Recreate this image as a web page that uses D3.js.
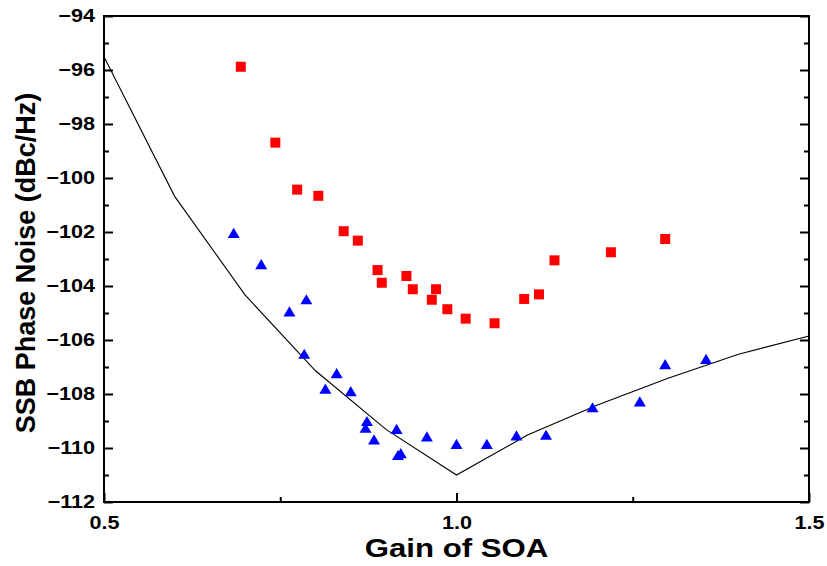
<!DOCTYPE html>
<html>
<head>
<meta charset="utf-8">
<script src="https://cdn.jsdelivr.net/npm/d3@7"></script>
<style>
  html, body { margin: 0; padding: 0; background: #fff; }
  svg { display: block; }
  text { font-family: "Liberation Sans", Arial, sans-serif; font-weight: bold; fill: #000; }
</style>
</head>
<body>
<svg id="chart" width="827" height="566"></svg>
<script>
// ---- data ----
const gainRed = [0.694, 0.743, 0.774, 0.804, 0.840, 0.860, 0.888, 0.894, 0.929, 0.938, 0.965, 0.971, 0.987, 1.013, 1.054, 1.096, 1.117, 1.139, 1.219, 1.296];
const noiseRed = [-95.88, -98.69, -100.43, -100.66, -101.97, -102.32, -103.41, -103.88, -103.63, -104.12, -104.51, -104.12, -104.86, -105.21, -105.38, -104.48, -104.31, -103.05, -102.75, -102.26];

const gainBlue = [0.684, 0.723, 0.763, 0.784, 0.787, 0.814, 0.830, 0.850, 0.873, 0.871, 0.883, 0.915, 0.917, 0.921, 0.958, 1.000, 1.043, 1.085, 1.127, 1.193, 1.260, 1.296, 1.354];
const noiseBlue = [-102.03, -103.19, -104.94, -106.51, -104.49, -107.80, -107.23, -107.89, -109.00, -109.25, -109.68, -109.29, -110.26, -110.19, -109.57, -109.85, -109.85, -109.53, -109.51, -108.49, -108.27, -106.89, -106.70];

const gainLine = [0.5, 0.6, 0.7, 0.8, 0.9, 1.0, 1.1, 1.2, 1.3, 1.4, 1.5];
const noiseLine = [-95.51, -100.67, -104.33, -107.14, -109.31, -111.0, -109.53, -108.41, -107.42, -106.53, -105.85];

const xMajorTicks = [0.5, 1.0, 1.5];
const xMinorTicks = [0.75, 1.25];
const xTickLabels = ["0.5", "1.0", "1.5"];
const yMajorTicks = [-112, -110, -108, -106, -104, -102, -100, -98, -96, -94];
const yMinorTicks = [-111, -109, -107, -105, -103, -101, -99, -97, -95];

const xTitle = "Gain of SOA";
const yTitle = "SSB Phase Noise (dBc/Hz)";

// ---- layout ----
const L = 104, R = 809, T = 16, B = 502;
const svg = d3.select("#chart");
const x = d3.scaleLinear().domain([0.5, 1.5]).range([L, R]);
const y = d3.scaleLinear().domain([-112, -94]).range([B, T]);

// line
const line = d3.line().x(d => x(d[0])).y(d => y(d[1]));
svg.append("path")
  .datum(gainLine.map((g, i) => [g, noiseLine[i]]))
  .attr("d", line)
  .attr("fill", "none")
  .attr("stroke", "#000")
  .attr("stroke-width", 1.1);

// red squares
svg.append("g").selectAll("path")
  .data(gainRed.map((g, i) => [g, noiseRed[i]]))
  .join("path")
  .attr("transform", d => `translate(${x(d[0])},${y(d[1])})`)
  .attr("d", d3.symbol().type(d3.symbolSquare).size(100)())
  .attr("fill", "#ff0000");

// blue triangles (apex up, bbox-centred)
const triUp = {
  draw(ctx, size) {
    const w = Math.sqrt(size * 2.4);
    const h = w * 0.85;
    ctx.moveTo(0, -h / 2);
    ctx.lineTo(w / 2, h / 2);
    ctx.lineTo(-w / 2, h / 2);
    ctx.closePath();
  }
};
svg.append("g").selectAll("path")
  .data(gainBlue.map((g, i) => [g, noiseBlue[i]]))
  .join("path")
  .attr("transform", d => `translate(${x(d[0])},${y(d[1])})`)
  .attr("d", d3.symbol().type(triUp).size(60)())
  .attr("fill", "#0000ff");

// axes
function styleAxis(g) {
  g.select(".domain").remove();
  g.selectAll(".tick line").attr("stroke", "#000").attr("stroke-width", 2);
}
// bottom
svg.append("g").attr("transform", `translate(0,${B})`)
  .call(d3.axisBottom(x).tickValues(xMajorTicks).tickSize(-9).tickFormat((d, i) => xTickLabels[i]).tickPadding(14))
  .call(styleAxis)
  .call(g => g.selectAll(".tick text").attr("font-size", 18)
     .attr("transform", "scale(1.2,1)")
     .attr("x", 0));
svg.append("g").attr("transform", `translate(0,${B})`)
  .call(d3.axisBottom(x).tickValues(xMinorTicks).tickSize(-5).tickFormat(""))
  .call(styleAxis);
// left
svg.append("g").attr("transform", `translate(${L},0)`)
  .call(d3.axisLeft(y).tickValues(yMajorTicks).tickSize(-9).tickPadding(9).tickFormat(d3.format("d")))
  .call(styleAxis)
  .call(g => g.selectAll(".tick text").attr("font-size", 18).attr("transform", "scale(1.2,1)")
     .attr("x", -9 / 1.2));
svg.append("g").attr("transform", `translate(${L},0)`)
  .call(d3.axisLeft(y).tickValues(yMinorTicks).tickSize(-5).tickFormat(""))
  .call(styleAxis);
// right
svg.append("g").attr("transform", `translate(${R},0)`)
  .call(d3.axisRight(y).tickValues(yMajorTicks).tickSize(-9).tickFormat(""))
  .call(styleAxis);
svg.append("g").attr("transform", `translate(${R},0)`)
  .call(d3.axisRight(y).tickValues(yMinorTicks).tickSize(-5).tickFormat(""))
  .call(styleAxis);

// frame
svg.append("rect")
  .attr("x", L).attr("y", T).attr("width", R - L).attr("height", B - T)
  .attr("fill", "none").attr("stroke", "#000").attr("stroke-width", 2);

// titles
svg.append("text")
  .attr("transform", `translate(${(L + R) / 2},557) scale(1.2,1)`)
  .attr("text-anchor", "middle")
  .attr("font-size", 26)
  .text(xTitle);
svg.append("text")
  .attr("transform", `translate(35,${(T + B) / 2 + 4}) rotate(-90)`)
  .attr("text-anchor", "middle")
  .attr("font-size", 27)
  .text(yTitle);
</script>
</body>
</html>
